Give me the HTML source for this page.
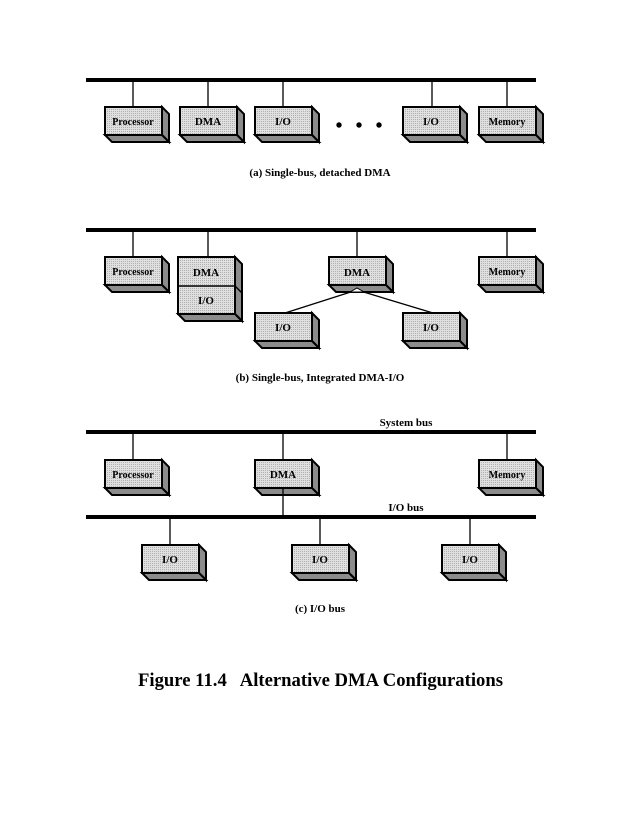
<!DOCTYPE html>
<html><head><meta charset="utf-8"><style>
html,body{margin:0;padding:0;background:#fff;}
svg{display:block;}
text{font-family:"Liberation Serif",serif;font-weight:bold;fill:#000;}
.lbl{font-size:11px;text-anchor:middle;}
.cap{font-size:11px;text-anchor:middle;}
</style></head><body>
<svg width="637" height="824" viewBox="0 0 637 824" xmlns="http://www.w3.org/2000/svg">
<defs>
<pattern id="hatch" width="2" height="2" patternUnits="userSpaceOnUse">
<rect width="2" height="2" fill="#e0e0e0"/><rect width="1" height="1" fill="#b0b0b0"/>
</pattern>
<g id="box">
<polygon points="57,0 64,7 64,35 57,28" fill="#8c8c8c" stroke="#000" stroke-width="2" stroke-linejoin="miter"/>
<polygon points="0,28 57,28 64,35 7,35" fill="#8c8c8c" stroke="#000" stroke-width="2"/>
<rect x="0" y="0" width="57" height="28" fill="url(#hatch)" stroke="#000" stroke-width="2"/>
</g>
</defs>

<!-- (a) -->
<rect x="86" y="78" width="450" height="4" fill="#000"/>
<g stroke="#000" stroke-width="1.3">
<line x1="133" y1="80" x2="133" y2="107"/>
<line x1="208" y1="80" x2="208" y2="107"/>
<line x1="283" y1="80" x2="283" y2="107"/>
<line x1="432" y1="80" x2="432" y2="107"/>
<line x1="507" y1="80" x2="507" y2="107"/>
</g>
<use href="#box" x="105" y="107"/>
<use href="#box" x="180" y="107"/>
<use href="#box" x="255" y="107"/>
<use href="#box" x="403" y="107"/>
<use href="#box" x="479" y="107"/>
<text class="lbl" x="133" y="125" style="font-size:10px">Processor</text>
<text class="lbl" x="208" y="125">DMA</text>
<text class="lbl" x="283" y="125">I/O</text>
<text class="lbl" x="431" y="125">I/O</text>
<text class="lbl" x="507" y="125" style="font-size:10px">Memory</text>
<circle cx="339" cy="125" r="2.7"/><circle cx="359" cy="125" r="2.7"/><circle cx="379" cy="125" r="2.7"/>
<text class="cap" x="320" y="176">(a) Single-bus, detached DMA</text>

<!-- (b) -->
<rect x="86" y="228" width="450" height="4" fill="#000"/>
<g stroke="#000" stroke-width="1.3">
<line x1="133" y1="230" x2="133" y2="257"/>
<line x1="208" y1="230" x2="208" y2="257"/>
<line x1="357" y1="230" x2="357" y2="257"/>
<line x1="507" y1="230" x2="507" y2="257"/>
<line x1="357" y1="290" x2="285" y2="313"/>
<line x1="357" y1="290" x2="433" y2="313"/>
</g>
<use href="#box" x="105" y="257"/>
<g>
<polygon points="235,257 242,264 242,321 235,314" fill="#8c8c8c" stroke="#000" stroke-width="2"/>
<polygon points="178,314 235,314 242,321 185,321" fill="#8c8c8c" stroke="#000" stroke-width="2"/>
<rect x="178" y="257" width="57" height="57" fill="url(#hatch)" stroke="#000" stroke-width="2"/>
<line x1="178" y1="286" x2="235" y2="286" stroke="#000" stroke-width="1.5"/>
<line x1="235" y1="286" x2="242" y2="293" stroke="#000" stroke-width="1.5"/>
</g>
<use href="#box" x="329" y="257"/>
<use href="#box" x="479" y="257"/>
<use href="#box" x="255" y="313"/>
<use href="#box" x="403" y="313"/>
<polygon points="350,292 357,288 364,292" fill="#fff" stroke="#000" stroke-width="1"/>
<text class="lbl" x="133" y="275" style="font-size:10px">Processor</text>
<text class="lbl" x="206" y="276">DMA</text>
<text class="lbl" x="206" y="304">I/O</text>
<text class="lbl" x="357" y="276">DMA</text>
<text class="lbl" x="507" y="275" style="font-size:10px">Memory</text>
<text class="lbl" x="283" y="331">I/O</text>
<text class="lbl" x="431" y="331">I/O</text>
<text class="cap" x="320" y="381">(b) Single-bus, Integrated DMA-I/O</text>

<!-- (c) -->
<text class="cap" x="406" y="426">System bus</text>
<rect x="86" y="430" width="450" height="4" fill="#000"/>
<g stroke="#000" stroke-width="1.3">
<line x1="133" y1="432" x2="133" y2="460"/>
<line x1="283" y1="432" x2="283" y2="460"/>
<line x1="507" y1="432" x2="507" y2="460"/>
<line x1="170" y1="517" x2="170" y2="545"/>
<line x1="320" y1="517" x2="320" y2="545"/>
<line x1="470" y1="517" x2="470" y2="545"/>
</g>
<use href="#box" x="105" y="460"/>
<use href="#box" x="255" y="460"/>
<use href="#box" x="479" y="460"/>
<line x1="283" y1="488" x2="283" y2="517" stroke="#000" stroke-width="1.3"/>
<text class="cap" x="406" y="511">I/O bus</text>
<rect x="86" y="515" width="450" height="4" fill="#000"/>
<use href="#box" x="142" y="545"/>
<use href="#box" x="292" y="545"/>
<use href="#box" x="442" y="545"/>
<text class="lbl" x="133" y="478" style="font-size:10px">Processor</text>
<text class="lbl" x="283" y="478">DMA</text>
<text class="lbl" x="507" y="478" style="font-size:10px">Memory</text>
<text class="lbl" x="170" y="563">I/O</text>
<text class="lbl" x="320" y="563">I/O</text>
<text class="lbl" x="470" y="563">I/O</text>
<text class="cap" x="320" y="612">(c) I/O bus</text>

<text x="138" y="686" style="font-size:19px" xml:space="preserve" textLength="365" lengthAdjust="spacingAndGlyphs">Figure 11.4   Alternative DMA Configurations</text>
</svg>
</body></html>
